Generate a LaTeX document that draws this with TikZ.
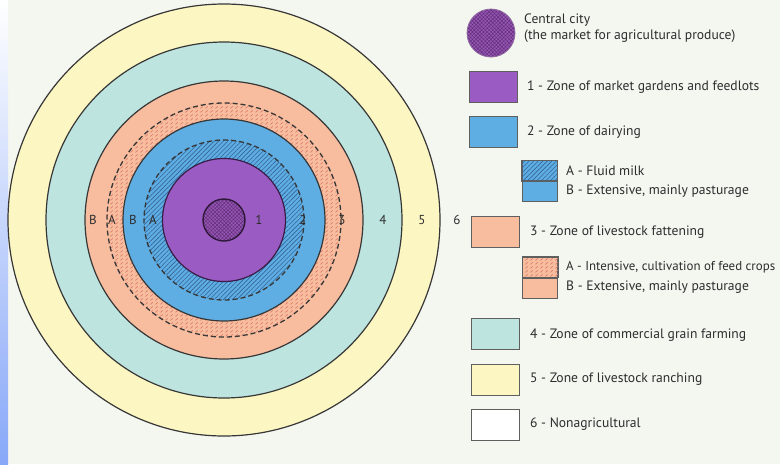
\documentclass[tikz,border=0pt]{standalone}
\usepackage{fontspec}
\setmainfont{PT Sans}
\usetikzlibrary{patterns,patterns.meta}
\definecolor{bgc}{RGB}{244,246,240}
\definecolor{zyellow}{RGB}{252,247,194}
\definecolor{zteal}{RGB}{190,228,224}
\definecolor{zsalmon}{RGB}{248,188,158}
\definecolor{zsalmondk}{RGB}{220,128,110}
\definecolor{zblue}{RGB}{94,174,228}
\definecolor{zbluedk}{RGB}{52,100,150}
\definecolor{zpurple}{RGB}{154,92,194}
\definecolor{zcity}{RGB}{150,86,180}
\definecolor{zcitydk}{RGB}{96,46,120}
\definecolor{edge}{RGB}{55,55,55}
\definecolor{txt}{RGB}{45,45,45}
\definecolor{stripbot}{RGB}{136,168,248}
\tikzdeclarepattern{
  name=dashlines,
  type=uncolored,
  bounding box={(0pt,0pt) and (5pt,4pt)},
  tile size={(5pt,4pt)},
  code={\draw[line width=0.8pt] (0.5pt,0.8pt) -- (3.3pt,3.2pt);}
}
\begin{document}
\begin{tikzpicture}[x=1pt,y=-1pt,
  ring/.style={draw=edge,line width=1.2pt},
  dashring/.style={draw=edge,line width=1.3pt,dash pattern=on 5pt off 3pt},
  zlabel/.style={text=txt,font=\fontsize{13}{15}\selectfont,inner sep=0pt},
  legbox/.style={draw=edge!80,line width=1pt,minimum width=48pt,minimum height=31pt,inner sep=0pt},
  halfbox/.style={draw=edge!80,line width=1pt,minimum width=35pt,minimum height=20pt,inner sep=0pt},
  legtext/.style={anchor=west,text=txt,font=\fontsize{13.6}{16}\selectfont,inner sep=0pt,align=left}]
\useasboundingbox (0,0) rectangle (780,464);
\fill[bgc] (0,0) rectangle (780,464);
\shade[top color=white,bottom color=stripbot] (0,0) rectangle (8,464);
\coordinate (c) at (224,220);
% zone 5
\fill[zyellow] (c) circle[radius=216];
\draw[ring] (c) circle[radius=216];
% zone 4
\fill[zteal] (c) circle[radius=178];
\draw[ring] (c) circle[radius=178];
% zone 3
\fill[zsalmon] (c) circle[radius=139];
\draw[ring] (c) circle[radius=139];
\fill[pattern=dashlines,pattern color=zsalmondk] (c) circle[radius=117];
\draw[dashring] (c) circle[radius=117];
% zone 2
\fill[zblue] (c) circle[radius=101];
\draw[ring] (c) circle[radius=101];
\fill[pattern={Lines[angle=45,distance=3.2pt,line width=0.6pt]},pattern color=zbluedk] (c) circle[radius=80];
\draw[dashring] (c) circle[radius=80];
% zone 1
\fill[zpurple] (c) circle[radius=61.5];
\draw[ring,draw=zcitydk!60!black] (c) circle[radius=61.5];
% central city
\fill[zcity] (c) circle[radius=21];
\fill[pattern={Hatch[angle=45,distance=2.6pt,line width=0.45pt]},pattern color=zcitydk] (c) circle[radius=21];
\draw[ring,draw=zcitydk!50!black,line width=1.4pt] (c) circle[radius=21];
% zone labels
\node[zlabel] (n1) at (259,220) {1};
\node[zlabel] (n2) at (303,220) {2};
\node[zlabel] (n3) at (342,220) {3};
\node[zlabel] (n4) at (383,220) {4};
\node[zlabel] (n5) at (422,220) {5};
\node[zlabel] (n6) at (457,220) {6};
\node[zlabel] (nb3) at (93,220) {B};
\node[zlabel] (na3) at (112,220) {A};
\node[zlabel] (nb2) at (133,220) {B};
\node[zlabel] (na2) at (153,220) {A};
% legend
\fill[zcity] (491,33) circle[radius=24];
\fill[pattern={Hatch[angle=45,distance=2.6pt,line width=0.45pt]},pattern color=zcitydk] (491,33) circle[radius=24];
\node[circle,minimum size=48pt,inner sep=0pt,draw=zcitydk!70,line width=0.8pt] (lc) at (491,33) {};
\node[legtext] (tc) at (524,28) {Central city\\(the market for agricultural produce)};
\node[legbox,fill=zpurple] (l1) at (493,87) {};
\node[legtext] (t1) at (527,87) {1 - Zone of market gardens and feedlots};
\node[legbox,fill=zblue] (l2) at (493,131.5) {};
\node[legtext] (t2) at (527,132) {2 - Zone of dairying};
\node[halfbox,fill=zblue] (l2a) at (539.5,170.5) {};
\fill[pattern={Lines[angle=45,distance=3.2pt,line width=0.6pt]},pattern color=zbluedk] (l2a.north west) rectangle (l2a.south east);
\draw[draw=edge!80,line width=1pt] (l2a.north west) rectangle (l2a.south east);
\node[halfbox,fill=zblue,anchor=north] (l2b) at (l2a.south) {};
\node[legtext] (t2a) at (566,171) {A - Fluid milk};
\node[legtext] (t2b) at (566,191) {B - Extensive, mainly pasturage};
\node[legbox,fill=zsalmon] (l3) at (495,232) {};
\node[legtext] (t3) at (530,232) {3 - Zone of livestock fattening};
\node[halfbox,fill=zsalmon] (l3a) at (540,267) {};
\fill[pattern=dashlines,pattern color=zsalmondk] (l3a.north west) rectangle (l3a.south east);
\draw[draw=edge!80,line width=1pt] (l3a.north west) rectangle (l3a.south east);
\node[halfbox,fill=zsalmon,anchor=north] (l3b) at (l3a.south) {};
\node[legtext,font=\fontsize{12.9}{16}\selectfont] (t3a) at (566,267) {A - Intensive, cultivation of feed crops};
\node[legtext] (t3b) at (566,287) {B - Extensive, mainly pasturage};
\node[legbox,fill=zteal] (l4) at (495.5,333.5) {};
\node[legtext] (t4) at (530,335) {4 - Zone of commercial grain farming};
\node[legbox,fill=zyellow] (l5) at (495.5,379.5) {};
\node[legtext] (t5) at (530,379) {5 - Zone of livestock ranching};
\node[legbox,fill=white] (l6) at (495.5,424.5) {};
\node[legtext] (t6) at (530,424) {6 - Nonagricultural};
\end{tikzpicture}
\end{document}
